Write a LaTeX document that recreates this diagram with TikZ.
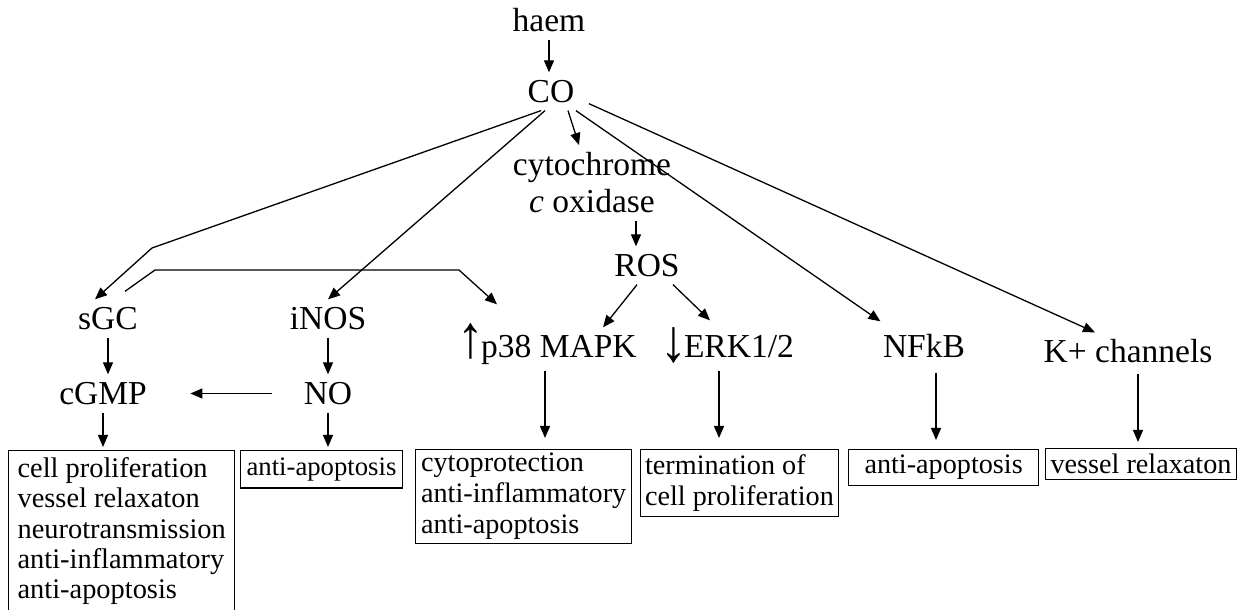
\documentclass[tikz,border=0pt]{standalone}
\usepackage{fontspec}
\setmainfont{Liberation Serif}
\usetikzlibrary{arrows.meta, positioning}

\tikzset{
  lblfont/.style={font=\fontsize{33.5}{37}\selectfont, inner sep=7pt},
  lbl/.style={lblfont, text height=23pt, text depth=0pt, anchor=base},
  res/.style={draw, line width=1.2pt, font=\fontsize{28.2}{31}\selectfont,
    align=left, inner xsep=5pt, inner ysep=5pt, anchor=north west},
}
\newcommand{\tallarrow}[1]{\scalebox{1.6}[1.8]{#1}}

\begin{document}
\begin{tikzpicture}[x=1pt, y=1pt, >={Triangle[length=12pt,width=10pt]}, line width=1.3pt]
  \useasboundingbox (0,0) rectangle (1247,610);
  % top of the cascade
  \node[lbl] (haem) at (549,578) {haem};
  \node[lbl] (CO) at (551,507) {CO};
  \node[lblfont, align=center, anchor=north] (cyto) at (592,465) {cytochrome\\\textit{c} oxidase};
  \node[lbl] (ROS) at (647,333) {ROS};
  % targets
  \node[lbl] (sGC) at (108,280) {sGC};
  \node[lbl] (iNOS) at (328,280) {iNOS};
  \node[lbl] (cGMP) at (103,205) {cGMP};
  \node[lbl] (NO) at (328,205) {NO};
  \node[lbl] (p38) at (548,252) {\kern-2pt\tallarrow{↑}\kern-3pt p38 MAPK};
  \node[lbl] (ERK) at (727,252) {\raisebox{-4pt}{\tallarrow{↓}}\kern-3pt ERK1/2};
  \node[lbl] (NFkB) at (924,252) {NFkB};
  \node[lbl] (Kp) at (1128,247) {K+ channels};
  % effects
  \node[res, inner xsep=9pt, inner ysep=7pt, font=\fontsize{28.4}{30.25}\selectfont] (rSGC) at (8,160)
    {cell proliferation\\vessel relaxaton\\neurotransmission\\anti-inflammatory\\anti-apoptosis\rule[-14pt]{0pt}{14pt}};
  \node[res, inner xsep=6pt, inner ysep=7pt, font=\fontsize{26.7}{30}\selectfont] (rNO) at (240,160) {anti-apoptosis};
  \node[res, inner xsep=5.5pt, inner ysep=3.5pt] (rP38) at (415,161) {cytoprotection\\anti-inflammatory\\anti-apoptosis};
  \node[res, inner xsep=4.5pt] (rERK) at (640,161) {termination of\\cell proliferation};
  \node[res, align=center, minimum width=190pt, inner ysep=5.5pt] (rNFkB) at (848,161) {anti-apoptosis};
  \node[res, inner ysep=5.5pt] (rKp) at (1045,162) {vessel relaxaton};
  % bends
  \coordinate (kSGC) at (152,362);
  \coordinate (kL) at (155,340);
  \coordinate (kR) at (459,340);

  \draw[->] (haem.south) -- (haem.south |- CO.north);
  \draw[->] ([xshift=17pt]CO.south) -- ([xshift=-13pt]cyto.north);
  \draw[->] ([xshift=-10pt]CO.south) -- (kSGC) -- ([xshift=-13pt]sGC.north);
  \draw[->] ([xshift=-6pt]CO.south) -- (iNOS.north);
  \draw[->] ([xshift=-6pt]CO.south east) -- ([xshift=5pt,yshift=6pt]NFkB.north west);
  \draw[->] ([xshift=7pt,yshift=7pt]CO.south east) -- ([xshift=-33pt]Kp.north);
  \draw[->] ([xshift=17pt,yshift=8pt]sGC.north) -- (kL) -- (kR) -- ([xshift=-51pt,yshift=23pt]p38.north);
  \draw[->] ([xshift=44pt]cyto.south) -- ([xshift=44pt]cyto.south |- ROS.north);
  \draw[->] ([xshift=-10pt]ROS.south) -- ([xshift=55pt]p38.north);
  \draw[->] ([xshift=26pt]ROS.south) -- ([xshift=-17pt,yshift=7pt]ERK.north);

  \draw[->] (sGC.south) -- (sGC.south |- cGMP.north);
  \draw[->] (iNOS.south) -- (NO.north);
  \draw[->, shorten <=24pt, shorten >=36pt] (NO.west) -- (cGMP.east);
  \draw[->, shorten >=3pt] (cGMP.south) -- (cGMP.south |- rSGC.north);
  \draw[->, shorten >=3pt] (NO.south) -- (NO.south |- rNO.north);
  \draw[->, shorten <=5pt, shorten >=11pt] ([xshift=-3pt]p38.south) -- ([xshift=-3pt]p38.south |- rP38.north);
  \draw[->, shorten <=5pt, shorten >=11pt] ([xshift=-8pt]ERK.south) -- ([xshift=-8pt]ERK.south |- rERK.north);
  \draw[->, shorten <=7pt, shorten >=9pt] ([xshift=12pt]NFkB.south) -- ([xshift=12pt]NFkB.south |- rNFkB.north);
  \draw[->, shorten <=3pt, shorten >=6pt] ([xshift=10pt]Kp.south) -- ([xshift=10pt]Kp.south |- rKp.north);
\end{tikzpicture}
\end{document}
